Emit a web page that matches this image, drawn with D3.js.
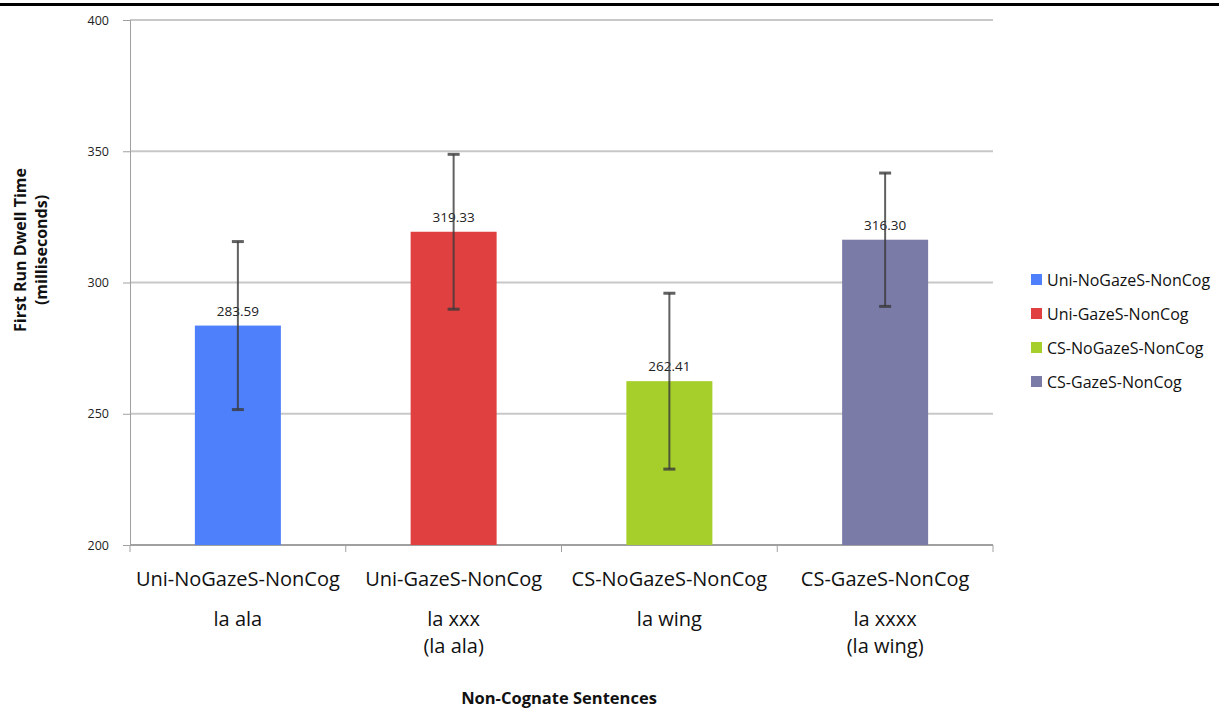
<!DOCTYPE html>
<html><head><meta charset="utf-8">
<script src="https://cdn.jsdelivr.net/npm/d3@7/dist/d3.min.js"></script>
<style>body{margin:0;background:#fff;font-family:"Open Sans","Liberation Sans",sans-serif;}</style>
</head><body><svg id="c" width="1219" height="708"></svg>
<script>
const categories = ["Uni-NoGazeS-NonCog","Uni-GazeS-NonCog","CS-NoGazeS-NonCog","CS-GazeS-NonCog"];
const subLabels = [["la ala"],["la xxx","(la ala)"],["la wing"],["la xxxx","(la wing)"]];
const values = [283.59, 319.33, 262.41, 316.30];
const errors = [32.0, 29.5, 33.5, 25.4];
const colors = ["#4e80fb","#e04040","#a6cf2b","#7b7ba7"];
const yTicks = [200,250,300,350,400];

const svg = d3.select("#c");
const L=130, R=993, T=20, B=545;
const x = d3.scaleBand().domain(categories).range([L,R]).paddingInner(0).paddingOuter(0);
const y = d3.scaleLinear().domain([200,400]).range([B,T]);

svg.append("rect").attr("x",0).attr("y",3).attr("width",1219).attr("height",3).attr("fill","#000");

// gridlines
svg.append("g").selectAll("line").data(yTicks.slice(1)).join("line")
  .attr("x1",L).attr("x2",R).attr("y1",d=>y(d)).attr("y2",d=>y(d))
  .attr("stroke","#c8c8c8").attr("stroke-width",2);

// y axis
const ya = svg.append("g").attr("transform",`translate(${L},0)`)
  .call(d3.axisLeft(y).tickValues(yTicks).tickSize(7).tickPadding(14));
ya.select(".domain").attr("stroke","#a0a0a0");
ya.selectAll(".tick line").attr("stroke","#a0a0a0");
ya.selectAll("text").attr("font-size",12.5).attr("fill","#222").attr("font-family","Open Sans, sans-serif");

// x axis
const xa = svg.append("g").attr("transform",`translate(0,${B})`);
xa.append("line").attr("x1",L).attr("x2",R).attr("stroke","#a0a0a0").attr("stroke-width",2);
const bounds = categories.map(c=>x(c)).concat([x(categories[3])+x.bandwidth()]);
xa.selectAll("line.t").data(bounds).join("line").attr("class","t")
  .attr("x1",d=>d).attr("x2",d=>d).attr("y1",0).attr("y2",7).attr("stroke","#a0a0a0");

// bars
const bw = 86;
const cx = c => x(c)+x.bandwidth()/2;
svg.append("g").selectAll("rect").data(categories).join("rect")
  .attr("x",c=>cx(c)-bw/2).attr("width",bw)
  .attr("y",(c,i)=>y(values[i])).attr("height",(c,i)=>B-y(values[i]))
  .attr("fill",(c,i)=>colors[i]);

// value labels
svg.append("g").selectAll("text").data(categories).join("text")
  .attr("x",cx).attr("y",(c,i)=>y(values[i])-10)
  .attr("text-anchor","middle").attr("font-size",13.5).attr("fill","#222")
  .text((c,i)=>values[i].toFixed(2));

// error bars
const eg = svg.append("g").attr("stroke","#3a3a3a").attr("stroke-opacity",0.8).attr("stroke-width",2);
categories.forEach((c,i)=>{
  const hi=y(values[i]+errors[i]), lo=y(values[i]-errors[i]);
  eg.append("line").attr("x1",cx(c)).attr("x2",cx(c)).attr("y1",hi).attr("y2",lo);
  eg.append("line").attr("x1",cx(c)-6).attr("x2",cx(c)+6).attr("y1",hi).attr("y2",hi).attr("stroke-width",3);
  eg.append("line").attr("x1",cx(c)-6).attr("x2",cx(c)+6).attr("y1",lo).attr("y2",lo).attr("stroke-width",3);
});

// category labels
svg.append("g").selectAll("text").data(categories).join("text")
  .attr("x",cx).attr("y",586).attr("text-anchor","middle").attr("font-size",20).attr("fill","#111")
  .text(d=>d);
categories.forEach((c,i)=>{
  subLabels[i].forEach((s,j)=>{
    svg.append("text").attr("x",cx(c)).attr("y",626+j*27).attr("text-anchor","middle")
      .attr("font-size",20).attr("fill","#111").text(s);
  });
});

// axis titles
svg.append("text").attr("x",559).attr("y",704).attr("text-anchor","middle")
  .attr("font-size",16.5).attr("font-weight","bold").attr("fill","#111").text("Non-Cognate Sentences");
const yt = svg.append("text").attr("transform","translate(26,250) rotate(-90)").attr("text-anchor","middle")
  .attr("font-size",16).attr("font-weight","bold").attr("fill","#111");
yt.append("tspan").attr("x",0).attr("dy",0).text("First Run Dwell Time");
yt.append("tspan").attr("x",0).attr("dy",21).text("(milliseconds)");

// legend
const lg = svg.append("g");
categories.forEach((c,i)=>{
  const yy = 280+i*34;
  lg.append("rect").attr("x",1031).attr("y",yy-6).attr("width",11).attr("height",11).attr("fill",colors[i]);
  lg.append("text").attr("x",1047).attr("y",yy+6).attr("font-size",16).attr("fill","#111").text(c);
});
</script></body></html>
